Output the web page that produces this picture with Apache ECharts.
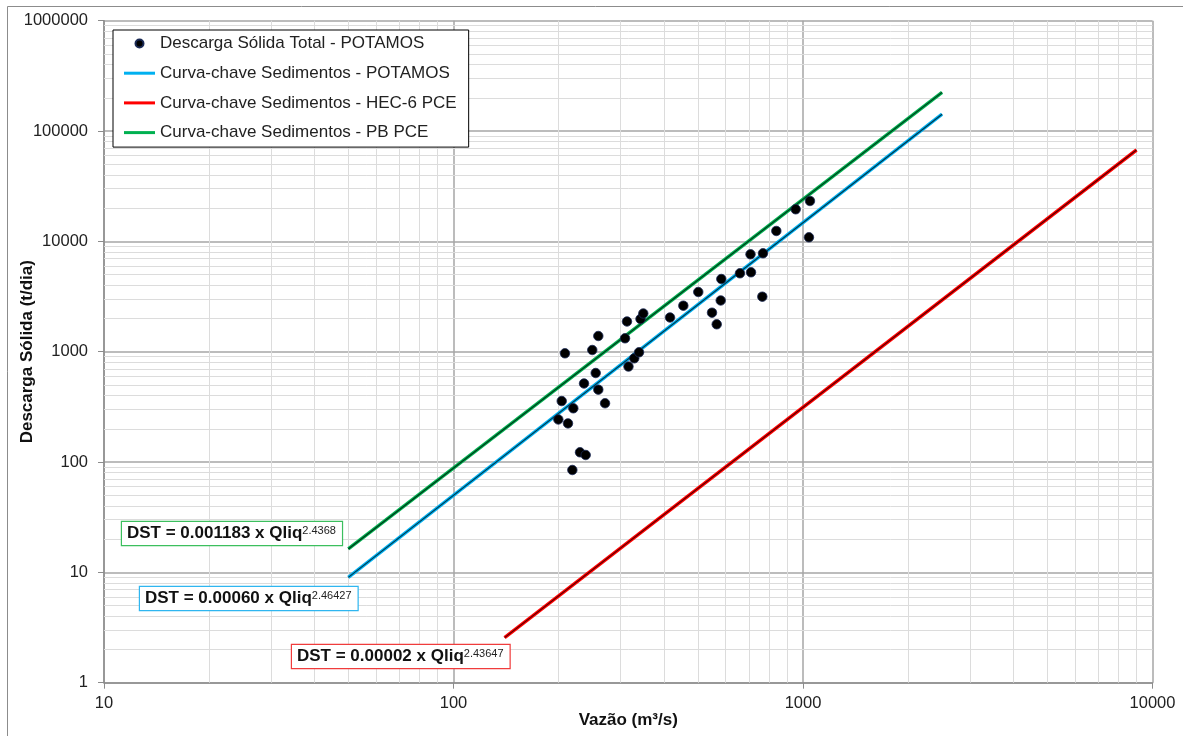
<!DOCTYPE html>
<html>
<head>
<meta charset="utf-8">
<script src="https://cdn.jsdelivr.net/npm/echarts@6/dist/echarts.min.js"></script>
<style>
html,body{margin:0;padding:0;background:#fff;}
#chart{width:1183px;height:736px;}
</style>
</head>
<body>
<div id="chart"></div>
<script>
// ---- data ----
const qObs = [199.5, 204, 208.4, 212.6, 218.8, 220.2, 230.1, 236.3, 238.9, 249.5, 255.2, 259.6, 259.6, 271.4,
  309.6, 313.6, 316.7, 329.0, 339.5, 342.8, 349.2, 416.4, 454.6, 501.6, 549.1, 566.4, 581.5, 583.8,
  660.1, 707.6, 710, 764.9, 768.4, 838.8, 953, 1040, 1047];
const dstObs = [243, 357, 967, 224, 84.7, 307, 122.6, 515, 115.8, 1036, 641, 1388, 453, 341,
  1323, 1878, 734, 871, 988, 1979, 2220, 2042, 2612, 3477, 2257, 1772, 2912, 4560,
  5137, 7638, 5246, 3152, 7798, 12420, 19540, 10890, 23230];

const potamosCurveQ = [50, 2500];
const potamosCurveD = [9.0, 142000];
const hecCurveQ = [140, 9000];
const hecCurveD = [2.56, 67300];
const pbCurveQ = [50, 2500];
const pbCurveD = [16.3, 224000];

const xTickValues = [10, 100, 1000, 10000];
const yTickValues = [1, 10, 100, 1000, 10000, 100000, 1000000];

const seriesNames = [
  'Descarga Sólida Total - POTAMOS',
  'Curva-chave Sedimentos - POTAMOS',
  'Curva-chave Sedimentos - HEC-6 PCE',
  'Curva-chave Sedimentos - PB PCE'
];
const eqTexts = [
  ['DST = 0.001183 x Qliq', '2.4368'],
  ['DST = 0.00060 x Qliq', '2.46427'],
  ['DST = 0.00002 x Qliq', '2.43647']
];

// ---- helpers ----
const zip = (a, b) => a.map((v, i) => [v, b[i]]);
const FONT = "'Liberation Sans', Arial, sans-serif";

// minor grid line positions (2..9 in each decade)
const xMinor = [], yMinor = [];
for (let i = 0; i < xTickValues.length - 1; i++) for (let k = 2; k <= 9; k++) xMinor.push(xTickValues[i] * k);
for (let i = 0; i < yTickValues.length - 1; i++) for (let k = 2; k <= 9; k++) yMinor.push(yTickValues[i] * k);

const chart = echarts.init(document.getElementById('chart'), null, {renderer: 'canvas'});

function lineSeries(name, q, d, color) {
  return [{
    name: name, type: 'line', data: zip(q, d), symbol: 'none', showSymbol: false, z: 3,
    lineStyle: {color: color, width: 3.5}, itemStyle: {color: color}, animation: false, silent: true
  }, {
    name: name + ' core', type: 'line', data: zip(q, d), symbol: 'none', showSymbol: false, z: 4,
    lineStyle: {color: '#000', width: 1.1, opacity: 0.7}, animation: false, silent: true
  }];
}

function eqBox(idx, x, y, border) {
  return {
    type: 'text', x: x, y: y, z: 100,
    style: {
      text: '{m|' + eqTexts[idx][0] + '}{s|' + eqTexts[idx][1] + '}',
      rich: {
        m: {fontSize: 17, fontWeight: 'bold', fontFamily: FONT, fill: '#111'},
        s: {fontSize: 11, fontFamily: FONT, fill: '#222', verticalAlign: 'top'}
      },
      align: 'left', verticalAlign: 'top',
      backgroundColor: '#fff', borderColor: border, borderWidth: 1.2,
      padding: [3, 6, 3, 5]
    }
  };
}

const lineIcon = 'path://M0,0 L31,0 L31,3 L0,3 Z';

const option = {
  backgroundColor: '#fff',
  animation: false,
  grid: {left: 104, right: 30.5, top: 20.7, bottom: 53.3, containLabel: false, outerBoundsMode: 'none'},
  legend: {
    orient: 'vertical', left: 113, top: 30,
    data: [
      {name: seriesNames[0], icon: 'circle'},
      {name: seriesNames[1], icon: lineIcon},
      {name: seriesNames[2], icon: lineIcon},
      {name: seriesNames[3], icon: lineIcon}
    ],
    itemWidth: 31, itemHeight: 8, itemGap: 12.7,
    padding: [5, 12, 6, 11],
    borderColor: '#000', borderWidth: 1, backgroundColor: '#fff',
    textStyle: {fontSize: 17, fontFamily: FONT, color: '#222'},
    selectedMode: false, z: 50
  },
  xAxis: {
    type: 'log', logBase: 10, min: 10, max: 10000,
    name: 'Vazão (m³/s)', nameLocation: 'middle', nameGap: 29, nameMoveOverlap: false,
    nameTextStyle: {fontSize: 17, fontWeight: 'bold', fontFamily: FONT, color: '#111'},
    axisLine: {show: true, lineStyle: {color: '#8c8c8c', width: 1.5}},
    axisTick: {show: true, length: 6, lineStyle: {color: '#8c8c8c'}},
    axisLabel: {fontSize: 16.5, fontFamily: FONT, color: '#222', margin: 12,
      formatter: v => String(Math.round(v))},
    splitLine: {show: true, lineStyle: {color: '#a6a6a6', width: 1.5}},
    minorTick: {show: false}, minorSplitLine: {show: false}
  },
  yAxis: {
    type: 'log', logBase: 10, min: 1, max: 1000000,
    name: 'Descarga Sólida (t/dia)', nameLocation: 'middle', nameGap: 68, nameRotate: 90, nameMoveOverlap: false,
    nameTextStyle: {fontSize: 17, fontWeight: 'bold', fontFamily: FONT, color: '#111'},
    axisLine: {show: true, lineStyle: {color: '#8c8c8c', width: 1.5}},
    axisTick: {show: true, length: 6, lineStyle: {color: '#8c8c8c'}},
    axisLabel: {fontSize: 16.5, fontFamily: FONT, color: '#222', margin: 16,
      formatter: v => String(Math.round(v))},
    splitLine: {show: true, lineStyle: {color: '#a6a6a6', width: 1.5}},
    minorTick: {show: false}, minorSplitLine: {show: false}
  },
  graphic: [
    {type: 'rect', z: -10, shape: {x: 7.5, y: 6.5, width: 1300, height: 900},
      style: {fill: 'none', stroke: '#8c8c8c', lineWidth: 1}, silent: true},
    eqBox(0, 122, 522, '#3cbf5e'),
    eqBox(1, 140, 587, '#2fb6f0'),
    eqBox(2, 292, 645, '#f03c3c')
  ],
  series: [
    {
      name: 'minor grid', type: 'line', data: [], z: 1, silent: true,
      markLine: {
        silent: true, symbol: ['none', 'none'], z: 1, animation: false,
        label: {show: false},
        lineStyle: {type: 'solid', color: '#dcdcdc', width: 1},
        emphasis: {disabled: true},
        data: xMinor.map(v => ({xAxis: v})).concat(yMinor.map(v => ({yAxis: v})))
      }
    },
    {
      name: seriesNames[0], type: 'scatter', data: zip(qObs, dstObs), symbol: 'circle', symbolSize: 9.5, z: 6,
      itemStyle: {color: '#000', borderColor: '#1a2a55', borderWidth: 0.8, opacity: 1}
    },
    ...lineSeries(seriesNames[1], potamosCurveQ, potamosCurveD, '#00b0f0'),
    ...lineSeries(seriesNames[2], hecCurveQ, hecCurveD, '#ff0000'),
    ...lineSeries(seriesNames[3], pbCurveQ, pbCurveD, '#00b050')
  ]
};
chart.setOption(option);
</script>
</body>
</html>
